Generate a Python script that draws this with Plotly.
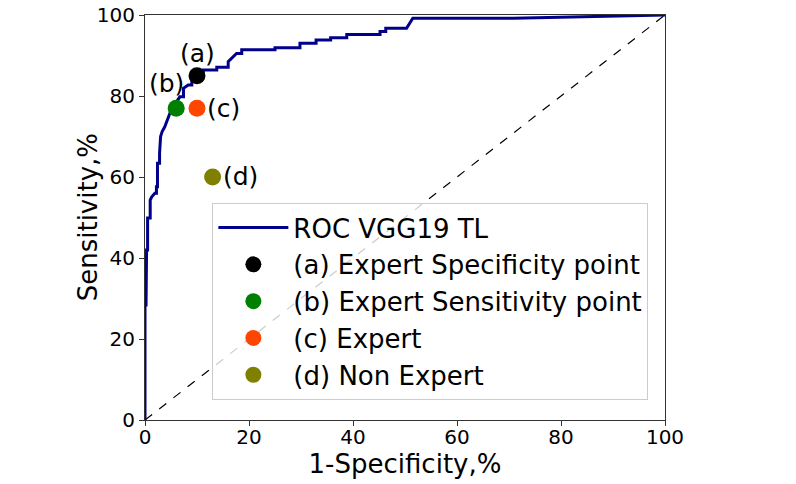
import plotly.graph_objects as go

# ROC curve (percent)
fpr = [0, 0, 0.2, 0.2, 0.3, 0.3, 0.5, 0.5, 1.0, 1.0, 1.3, 1.9, 2.2, 2.2, 2.4, 2.4,
       2.8, 2.8, 3.0, 3.3, 3.8, 4.3, 4.8, 5.5, 6.2, 6.7, 7.4, 7.4, 8.3, 9.0, 9.0,
       11.2, 11.2, 13.8, 13.8, 16.0, 16.0, 16.7, 17.6, 18.6, 18.6, 25.0, 25.0,
       29.8, 29.8, 32.9, 32.9, 35.7, 35.7, 38.8, 38.8, 45.2, 45.2, 46.3, 46.3,
       50.3, 51.5, 70.8, 100]
tpr = [0, 28.4, 28.4, 39.5, 39.5, 42.0, 42.0, 49.9, 49.9, 54.3, 55.1, 56.0, 56.0,
       57.6, 57.6, 63.4, 63.4, 65.8, 70.0, 71.2, 72.4, 74.1, 75.8, 77.5, 78.8,
       79.8, 79.8, 81.9, 82.7, 82.7, 85.0, 85.0, 86.4, 86.4, 87.1, 87.1, 88.5, 89.3,
       90.5, 90.5, 91.4, 91.4, 91.9, 91.9, 93.0, 93.0, 93.8, 93.8, 94.4, 94.4,
       95.2, 95.2, 95.9, 95.9, 96.7, 96.7, 99.2, 99.2, 100]

# operating points
pt_names = ["(a) Expert Specificity point", "(b) Expert Sensitivity point",
            "(c) Expert", "(d) Non Expert"]
pt_tags = ["(a)", "(b)", "(c)", "(d)"]
pt_x = [10, 6, 10, 13]
pt_y = [85, 77, 77, 60]
pt_colors = ["black", "#008000", "#FF4500", "#808000"]

# label anchor positions
tag_x = [10, 4.2, 15.0, 18.4]
tag_y = [90.6, 83.0, 77.0, 60.1]

font = "DejaVu Sans"

fig = go.Figure()

fig.add_trace(go.Scatter(x=[0, 100], y=[0, 100], mode="lines",
                         line=dict(color="black", width=1.2, dash="dash"),
                         showlegend=False, hoverinfo="skip"))

fig.add_trace(go.Scatter(x=fpr, y=tpr, mode="lines", name="ROC VGG19 TL",
                         line=dict(color="#00008B", width=3)))

for name, x, y, c in zip(pt_names, pt_x, pt_y, pt_colors):
    fig.add_trace(go.Scatter(x=[x], y=[y], mode="markers", name=name,
                             marker=dict(color=c, size=17)))

for t, x, y in zip(pt_tags, tag_x, tag_y):
    fig.add_annotation(x=x, y=y, text=t, showarrow=False,
                       font=dict(family=font, size=25, color="black"))

# y axis title as a rotated annotation so it sits where the original has it
fig.add_annotation(xref="paper", yref="paper", x=-0.110, y=0.5, text="Sensitivity,%",
                   textangle=-90, showarrow=False, xanchor="center", yanchor="middle",
                   font=dict(family=font, size=26, color="black"))

axis_common = dict(range=[0, 100], tickvals=[0, 20, 40, 60, 80, 100],
                   showgrid=False, zeroline=False, showline=True, mirror=True,
                   linecolor="#333333", linewidth=1, ticks="outside", ticklen=5,
                   tickcolor="#333333", automargin=False, ticklabeloverflow="allow",
                   tickfont=dict(family=font, size=20, color="black"))

fig.update_xaxes(title=dict(text="1-Specificity,%", font=dict(family=font, size=26, color="black"),
                            standoff=0), ticklabelstandoff=-6, **axis_common)
fig.update_yaxes(**axis_common)

fig.update_layout(
    width=796, height=484,
    margin=dict(l=145, r=131, t=15, b=64),
    plot_bgcolor="white", paper_bgcolor="white",
    font=dict(family=font),
    legend=dict(x=0.968, y=0.049, xanchor="right", yanchor="bottom",
                bgcolor="rgba(255,255,255,0.8)", bordercolor="#cccccc", borderwidth=1,
                font=dict(family=font, size=26, color="black"),
                itemsizing="trace", itemwidth=70, tracegroupgap=0),
)

# drop the browser's default 8px body margin so the figure fills the window
fig.write_html("out.html", config={"displayModeBar": False},
               post_script="document.body.style.margin='0px';")
